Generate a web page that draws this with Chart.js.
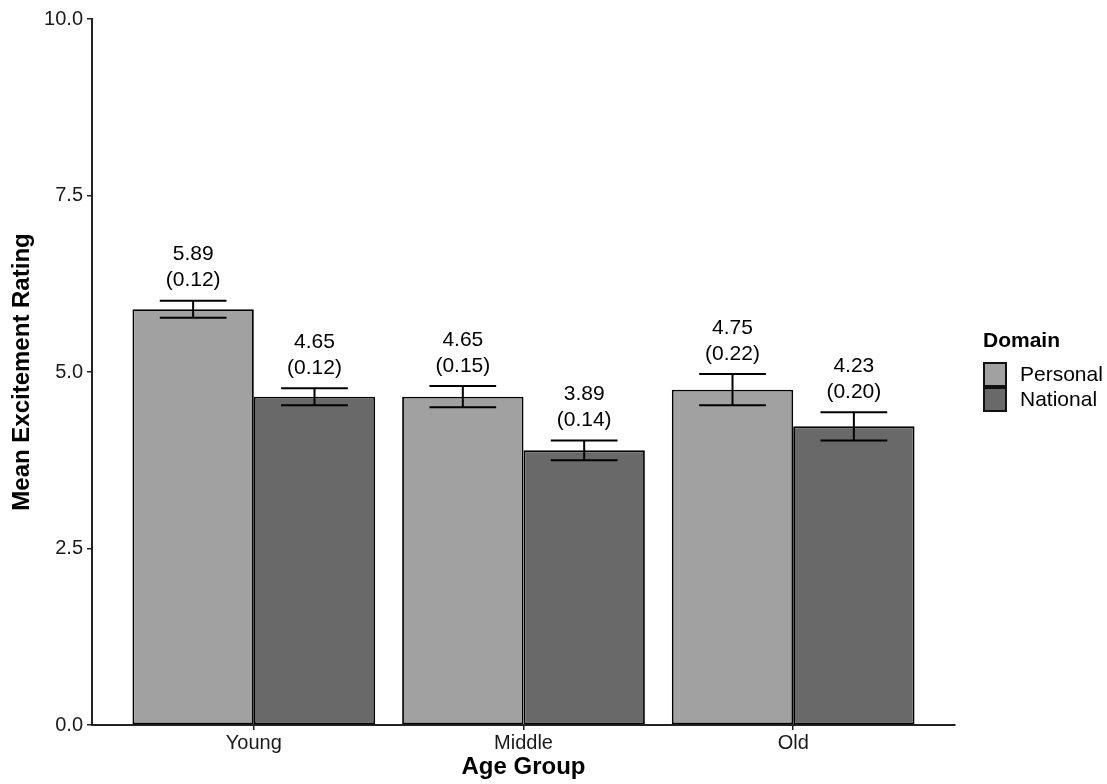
<!DOCTYPE html>
<html>
<head>
<meta charset="utf-8">
<script src="https://cdn.jsdelivr.net/npm/chart.js@4/dist/chart.umd.min.js"></script>
<style>
  html, body { margin: 0; padding: 0; background: #fff; }
  #wrap { width: 1107px; height: 784px; }
</style>
</head>
<body>
<div id="wrap"><canvas id="chart"></canvas></div>
<script>
const ageGroups = ["Young", "Middle", "Old"];
const domains = ["Personal", "National"];
const personalMeans = [5.89, 4.65, 4.75];
const personalSE = [0.12, 0.15, 0.22];
const nationalMeans = [4.65, 3.89, 4.23];
const nationalSE = [0.12, 0.14, 0.20];
const yTicks = [0, 2.5, 5, 7.5, 10];

const FONT = "'Liberation Sans', Arial, Helvetica, sans-serif";
const colors = ["#a1a1a1", "#696969"];

function toPoints(values) {
  return values.map((v, i) => ({x: i + 1, y: v}));
}

// error bars + "mean (se)" labels above each bar
const errorBars = {
  id: "errorBars",
  afterDatasetsDraw(chart) {
    const ctx = chart.ctx;
    const y = chart.scales.y;
    chart.data.datasets.forEach((ds, i) => {
      const meta = chart.getDatasetMeta(i);
      meta.data.forEach((bar, j) => {
        const mean = ds.data[j].y;
        const se = ds.se[j];
        const top = y.getPixelForValue(mean + se);
        const bot = y.getPixelForValue(mean - se);
        const half = bar.width * 0.275;
        ctx.save();
        ctx.strokeStyle = "#000";
        ctx.lineWidth = 2;
        ctx.beginPath();
        ctx.moveTo(bar.x, top); ctx.lineTo(bar.x, bot);
        ctx.moveTo(bar.x - half, top); ctx.lineTo(bar.x + half, top);
        ctx.moveTo(bar.x - half, bot); ctx.lineTo(bar.x + half, bot);
        ctx.stroke();
        ctx.fillStyle = "#000";
        ctx.font = "21px " + FONT;
        ctx.textAlign = "center";
        ctx.textBaseline = "middle";
        ctx.fillText("(" + se.toFixed(2) + ")", bar.x, top - 20);
        ctx.fillText(mean.toFixed(2), bar.x, top - 46);
        ctx.restore();
      });
    });
  }
};

// ggplot-style legend on the right
const sideLegend = {
  id: "sideLegend",
  afterDraw(chart) {
    const ctx = chart.ctx;
    const area = chart.chartArea;
    const x = area.right + 28;
    const mid = (area.top + area.bottom) / 2;
    ctx.save();
    ctx.fillStyle = "#000";
    ctx.textBaseline = "middle";
    ctx.textAlign = "left";
    ctx.font = "bold 21px " + FONT;
    ctx.fillText("Domain", x, mid - 31);
    ctx.font = "21px " + FONT;
    chart.data.datasets.forEach((ds, i) => {
      const by = mid - 10 + i * 25;
      ctx.fillStyle = ds.backgroundColor;
      ctx.fillRect(x, by, 24, 25);
      ctx.strokeStyle = "#111";
      ctx.lineWidth = 2;
      ctx.strokeRect(x + 1, by + 1, 22, 23);
      ctx.fillStyle = "#000";
      ctx.fillText(ds.label, x + 37, by + 13);
    });
    ctx.restore();
  }
};

new Chart(document.getElementById("chart"), {
  type: "bar",
  data: {
    datasets: [
      {label: domains[0], data: toPoints(personalMeans), se: personalSE, backgroundColor: colors[0]},
      {label: domains[1], data: toPoints(nationalMeans), se: nationalSE, backgroundColor: colors[1]},
    ].map(d => Object.assign(d, {borderColor: "#000", borderWidth: 1.8, borderSkipped: false}))
  },
  options: {
    responsive: true,
    maintainAspectRatio: false,
    animation: false,
    categoryPercentage: 0.9,
    barPercentage: 1,
    layout: {padding: {top: 19, right: 152, left: 0, bottom: 0}},
    plugins: {legend: {display: false}, tooltip: {enabled: false}},
    scales: {
      x: {
        type: "linear",
        min: 0.4,
        max: 3.6,
        offset: false,
        afterBuildTicks: (scale) => { scale.ticks = ageGroups.map((g, i) => ({value: i + 1})); },
        afterFit: (scale) => { scale.height = 59; },
        ticks: {
          callback: (v) => ageGroups[v - 1],
          color: "#1a1a1a",
          font: {family: FONT, size: 20},
          padding: 1,
          maxRotation: 0,
          autoSkip: false
        },
        grid: {drawOnChartArea: false, tickLength: 5, color: "#222", lineWidth: 1.5, offset: false},
        border: {color: "#222", width: 2},
        title: {display: true, text: "Age Group", color: "#000",
          font: {family: FONT, size: 24, weight: "bold"}, padding: {top: 0, bottom: 2}}
      },
      y: {
        min: 0,
        max: 10,
        afterBuildTicks: (scale) => { scale.ticks = yTicks.map(v => ({value: v})); },
        afterFit: (scale) => { scale.width = 92; },
        ticks: {
          callback: (v) => v.toFixed(1),
          color: "#1a1a1a",
          font: {family: FONT, size: 20},
          padding: 4
        },
        grid: {drawOnChartArea: false, tickLength: 5, color: "#222", lineWidth: 1.5},
        border: {color: "#222", width: 2},
        title: {display: true, text: "Mean Excitement Rating", color: "#000",
          font: {family: FONT, size: 24, weight: "bold"}, padding: {top: 8, bottom: 0}}
      }
    }
  },
  plugins: [errorBars, sideLegend]
});
</script>
</body>
</html>
